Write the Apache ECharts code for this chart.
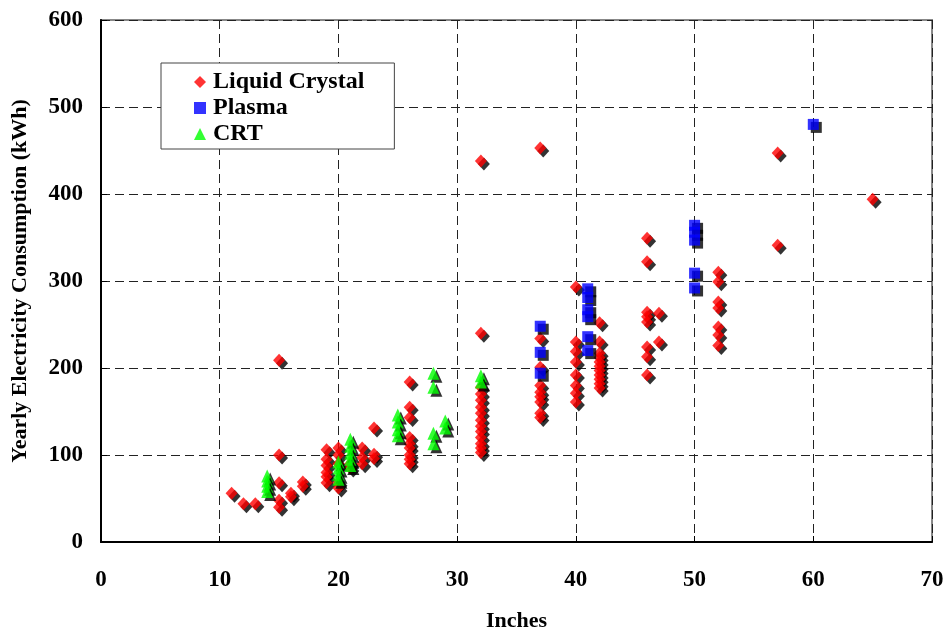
<!DOCTYPE html>
<html>
<head>
<meta charset="utf-8">
<script src="https://cdn.jsdelivr.net/npm/echarts@6/dist/echarts.min.js"></script>
<style>html,body{margin:0;padding:0;background:#fff}#c{width:949px;height:632px}</style>
</head>
<body>
<div id="c"></div>
<script>
// Liquid Crystal
const lcdInches = [11,12,13,15,15,15,15,15,16,16,17,17,19,19,19,19,19,19,20,20,20,20,20,21,21,22,22,22,23,23,23,
  26,26,26,26,26,26,26,26,26,
  32,32,32,32,32,32,32,32,32,32,32,32,32,32,
  37,37,37,37,37,37,37,37,37,
  40,40,40,40,40,40,40,40,
  42,42,42,42,42,42,42,42,42,42,42,
  46,46,46,46,46,46,46,46,
  47,47,
  52,52,52,52,52,52,52,
  57,57,65];
const lcdKwh = [56,44,44,209,100,68,48,40,56,52,69,64,106,95,88,80,75,68,108,100,90,68,62,90,85,108,97,90,131,101,96,
  184,155,143,120,113,108,100,95,90,
  438,240,178,170,163,155,148,140,133,127,120,113,108,103,
  453,234,201,180,172,167,161,148,143,
  293,230,219,207,192,180,171,161,
  252,230,217,212,207,202,197,192,187,182,177,
  349,322,264,259,253,224,213,192,
  263,230,
  310,299,276,269,247,238,226,
  447,341,394];
// Plasma
const plasmaInches = [37,37,37,41,41,41,41,41,41,50,50,50,50,50,60];
const plasmaKwh = [248,218,194,291,281,267,259,236,220,364,356,347,309,292,480];
// CRT
const crtInches = [14,14,14,14,20,20,20,20,21,21,21,21,21,25,25,25,25,28,28,28,28,29,29,32,32];
const crtKwh = [76,70,64,58,92,85,78,72,118,110,102,95,88,146,138,129,122,194,178,125,113,139,131,191,184];

const seriesNames = ['Liquid Crystal','Plasma','CRT'];
const xTicks = [0,10,20,30,40,50,60,70];
const yTicks = [0,100,200,300,400,500,600];

function pairs(xs, ys){ return xs.map((x,i)=>[x, ys[i]]); }

const font = '"Liberation Serif","Times New Roman",serif';
const shadow = {shadowColor:'#000', shadowOffsetX:3, shadowOffsetY:3, shadowBlur:0};

const chart = echarts.init(document.getElementById('c'), null, {renderer:'canvas'});
chart.setOption({
  animation:false,
  backgroundColor:'#fff',
  grid:{left:101, top:20, right:17, bottom:90, show:true, borderColor:'#888', borderWidth:2,
        containLabel:false, outerBoundsMode:'none'},
  legend:{
    orient:'vertical', left:161, top:63,
    data:seriesNames,
    backgroundColor:'#fff', borderColor:'#444', borderWidth:1,
    padding:[7,30,3,33],
    itemWidth:12, itemHeight:12, itemGap:2,
    itemStyle:{shadowBlur:0, shadowOffsetX:0, shadowOffsetY:0, shadowColor:'rgba(0,0,0,0)', borderWidth:0},
    textStyle:{fontFamily:font, fontWeight:'bold', fontSize:24, color:'#000', lineHeight:24, padding:[0,0,0,2]}
  },
  xAxis:{
    type:'value', min:xTicks[0], max:xTicks[xTicks.length-1], interval:10,
    name:'Inches', nameLocation:'middle', nameGap:68,
    nameTextStyle:{fontFamily:font, fontWeight:'bold', fontSize:22, color:'#000'},
    axisLine:{show:true, onZero:false, lineStyle:{color:'#000', width:2}},
    axisTick:{show:true, inside:true, length:6, lineStyle:{color:'#000'}},
    axisLabel:{margin:27, fontFamily:font, fontWeight:'bold', fontSize:23, color:'#000'},
    splitLine:{show:true, lineStyle:{color:'#222', type:[9,5], width:1}}
  },
  yAxis:{
    type:'value', min:yTicks[0], max:yTicks[yTicks.length-1], interval:100,
    name:'Yearly Electricity Consumption (kWh)', nameLocation:'middle', nameGap:70, nameRotate:90,
    nameTextStyle:{fontFamily:font, fontWeight:'bold', fontSize:22, color:'#000'},
    axisLine:{show:true, onZero:false, lineStyle:{color:'#000', width:2}},
    axisTick:{show:true, inside:true, length:6, lineStyle:{color:'#000'}},
    axisLabel:{margin:18, fontFamily:font, fontWeight:'bold', fontSize:23, color:'#000'},
    splitLine:{show:true, lineStyle:{color:'#222', type:[9,5], width:1}}
  },
  series:[
    {name:seriesNames[0], type:'scatter', symbol:'diamond', symbolSize:[12,13],
     data:pairs(lcdInches, lcdKwh), itemStyle:Object.assign({color:'#ff0000'}, shadow)},
    {name:seriesNames[1], type:'scatter', symbol:'rect', symbolSize:11,
     data:pairs(plasmaInches, plasmaKwh), itemStyle:Object.assign({color:'#0000ff'}, shadow)},
    {name:seriesNames[2], type:'scatter', symbol:'triangle', symbolSize:[12,13],
     data:pairs(crtInches, crtKwh), itemStyle:Object.assign({color:'#00ff00'}, shadow)}
  ]
});
</script>
</body>
</html>
